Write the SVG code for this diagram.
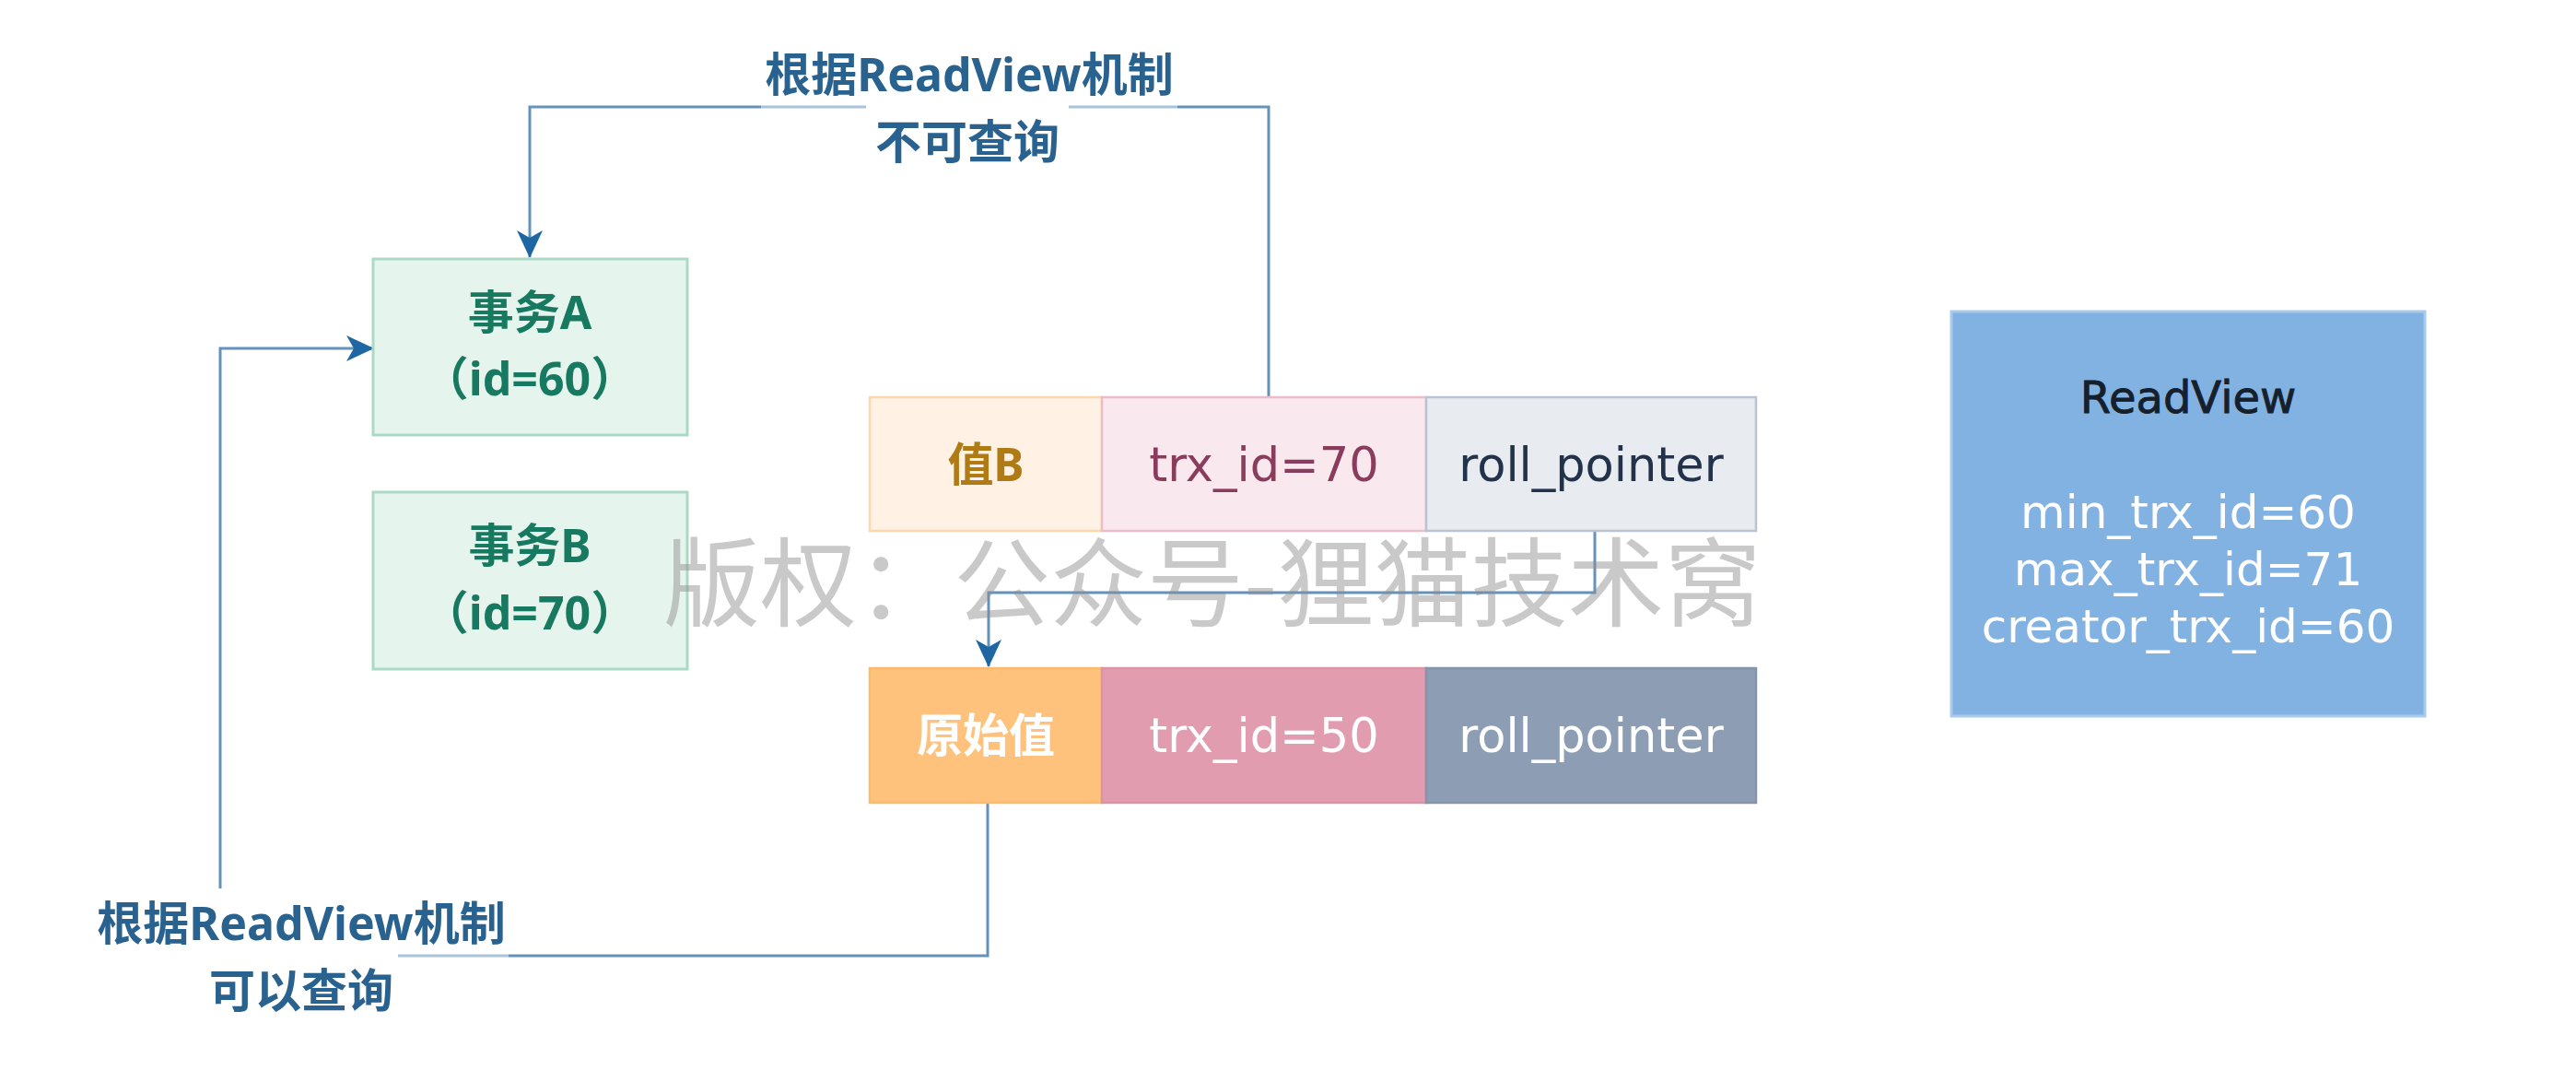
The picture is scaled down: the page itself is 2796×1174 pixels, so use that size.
<svg xmlns="http://www.w3.org/2000/svg" width="2796" height="1174" viewBox="0 0 2796 1174">
  <defs>
    <marker id="arrow" markerUnits="userSpaceOnUse" viewBox="0 0 30 30" markerWidth="30" markerHeight="30" refX="29" refY="15" orient="auto">
      <path d="M0,1 L30,15 L0,29 L8,15 Z" fill="#1f67a2"/>
    </marker>
    <style>
      .edge { fill: none; stroke: #6393bd; stroke-width: 3; }
      .lbl { font-family: "Noto Sans", "Noto Sans CJK SC", sans-serif; font-weight: bold; font-size: 50px; fill: #29628f; text-anchor: middle; }
      .trx { fill: #e6f4ee; stroke: #abd9c6; stroke-width: 3; }
      .trxt { font-family: "Noto Sans", "Noto Sans CJK SC", sans-serif; font-weight: bold; font-size: 50px; fill: #17795f; text-anchor: middle; }
      .cell { stroke-width: 2.5; }
      .ct { font-family: "DejaVu Sans", "Noto Sans CJK SC", sans-serif; font-size: 51px; text-anchor: middle; }
      .cj { font-family: "Noto Sans", "Noto Sans CJK SC", sans-serif; font-weight: bold; font-size: 50px; text-anchor: middle; }
      .rv { font-family: "DejaVu Sans", sans-serif; text-anchor: middle; }
      .wm { font-family: "Noto Sans CJK SC", sans-serif; font-weight: 400; font-size: 105px; fill: #8f8f8f; fill-opacity: 0.48; }
    </style>
  </defs>

  <rect width="2796" height="1174" fill="#ffffff"/>

  <!-- connectors -->
  <g id="connectors">
    <path class="edge" d="M1377,430 V116 H575 V279" marker-end="url(#arrow)"/>
    <path class="edge" d="M1731,576 V643 H1073 V723" marker-end="url(#arrow)"/>
    <path class="edge" d="M1072,871 V1037 H239 V378 H405" marker-end="url(#arrow)"/>
    <!-- label backgrounds -->
    <rect x="940" y="106" width="220" height="20" fill="#ffffff"/>
    <rect x="826" y="106" width="114" height="20" fill="#ffffff" fill-opacity="0.45"/>
    <rect x="1160" y="106" width="118" height="20" fill="#ffffff" fill-opacity="0.45"/>
    <rect x="100" y="964" width="332" height="140" fill="#ffffff"/>
    <rect x="432" y="1028" width="120" height="20" fill="#ffffff" fill-opacity="0.45"/>
    <text class="lbl" x="1052" y="99">根据ReadView机制</text>
    <text class="lbl" x="1050" y="172">不可查询</text>
    <text class="lbl" x="327" y="1020">根据ReadView机制</text>
    <text class="lbl" x="327" y="1093">可以查询</text>
  </g>

  <g id="trx-a">
    <rect class="trx" x="405" y="281" width="341" height="191"/>
    <text class="trxt" x="575" y="357">事务A</text>
    <text class="trxt" x="575" y="429">（id=60）</text>
  </g>

  <g id="trx-b">
    <rect class="trx" x="405" y="534" width="341" height="192"/>
    <text class="trxt" x="575" y="610">事务B</text>
    <text class="trxt" x="575" y="683">（id=70）</text>
  </g>

  <g id="row-b">
    <rect class="cell" x="944" y="431" width="252" height="145" fill="#fff1e4" stroke="#fbd7ab"/>
    <rect class="cell" x="1196" y="431" width="352" height="145" fill="#fae8ef" stroke="#ebbdcb"/>
    <rect class="cell" x="1548" y="431" width="358" height="145" fill="#e8ebf0" stroke="#b9c3d2"/>
    <text class="cj" x="1070" y="522" fill="#b07b14">值B</text>
    <text class="ct" x="1372" y="522" fill="#8a3c5c">trx_id=70</text>
    <text class="ct" x="1727" y="522" fill="#22324a">roll_pointer</text>
  </g>

  <g id="row-orig">
    <rect class="cell" x="944" y="725" width="252" height="146" fill="#fec27c" stroke="#fbbb6c"/>
    <rect class="cell" x="1196" y="725" width="352" height="146" fill="#e19caf" stroke="#da92a5"/>
    <rect class="cell" x="1548" y="725" width="358" height="146" fill="#8d9db4" stroke="#8494ab"/>
    <text class="cj" x="1070" y="816" fill="#ffffff">原始值</text>
    <text class="ct" x="1372" y="816" fill="#ffffff">trx_id=50</text>
    <text class="ct" x="1727" y="816" fill="#ffffff">roll_pointer</text>
  </g>

  <g id="readview">
    <rect x="2118" y="338" width="514" height="439" fill="#82b2e1" stroke="#a8caec" stroke-width="3"/>
    <text class="rv" x="2375" y="448" font-size="48" fill="#16202c" stroke="#16202c" stroke-width="0.9">ReadView</text>
    <text class="rv" x="2375" y="573" font-size="50" fill="#ffffff">min_trx_id=60</text>
    <text class="rv" x="2375" y="635" font-size="50" fill="#ffffff">max_trx_id=71</text>
    <text class="rv" x="2375" y="697" font-size="50" fill="#ffffff">creator_trx_id=60</text>
  </g>

  <!-- watermark -->
  <text class="wm" x="720" y="671">版权：公众号-狸猫技术窝</text>
</svg>
